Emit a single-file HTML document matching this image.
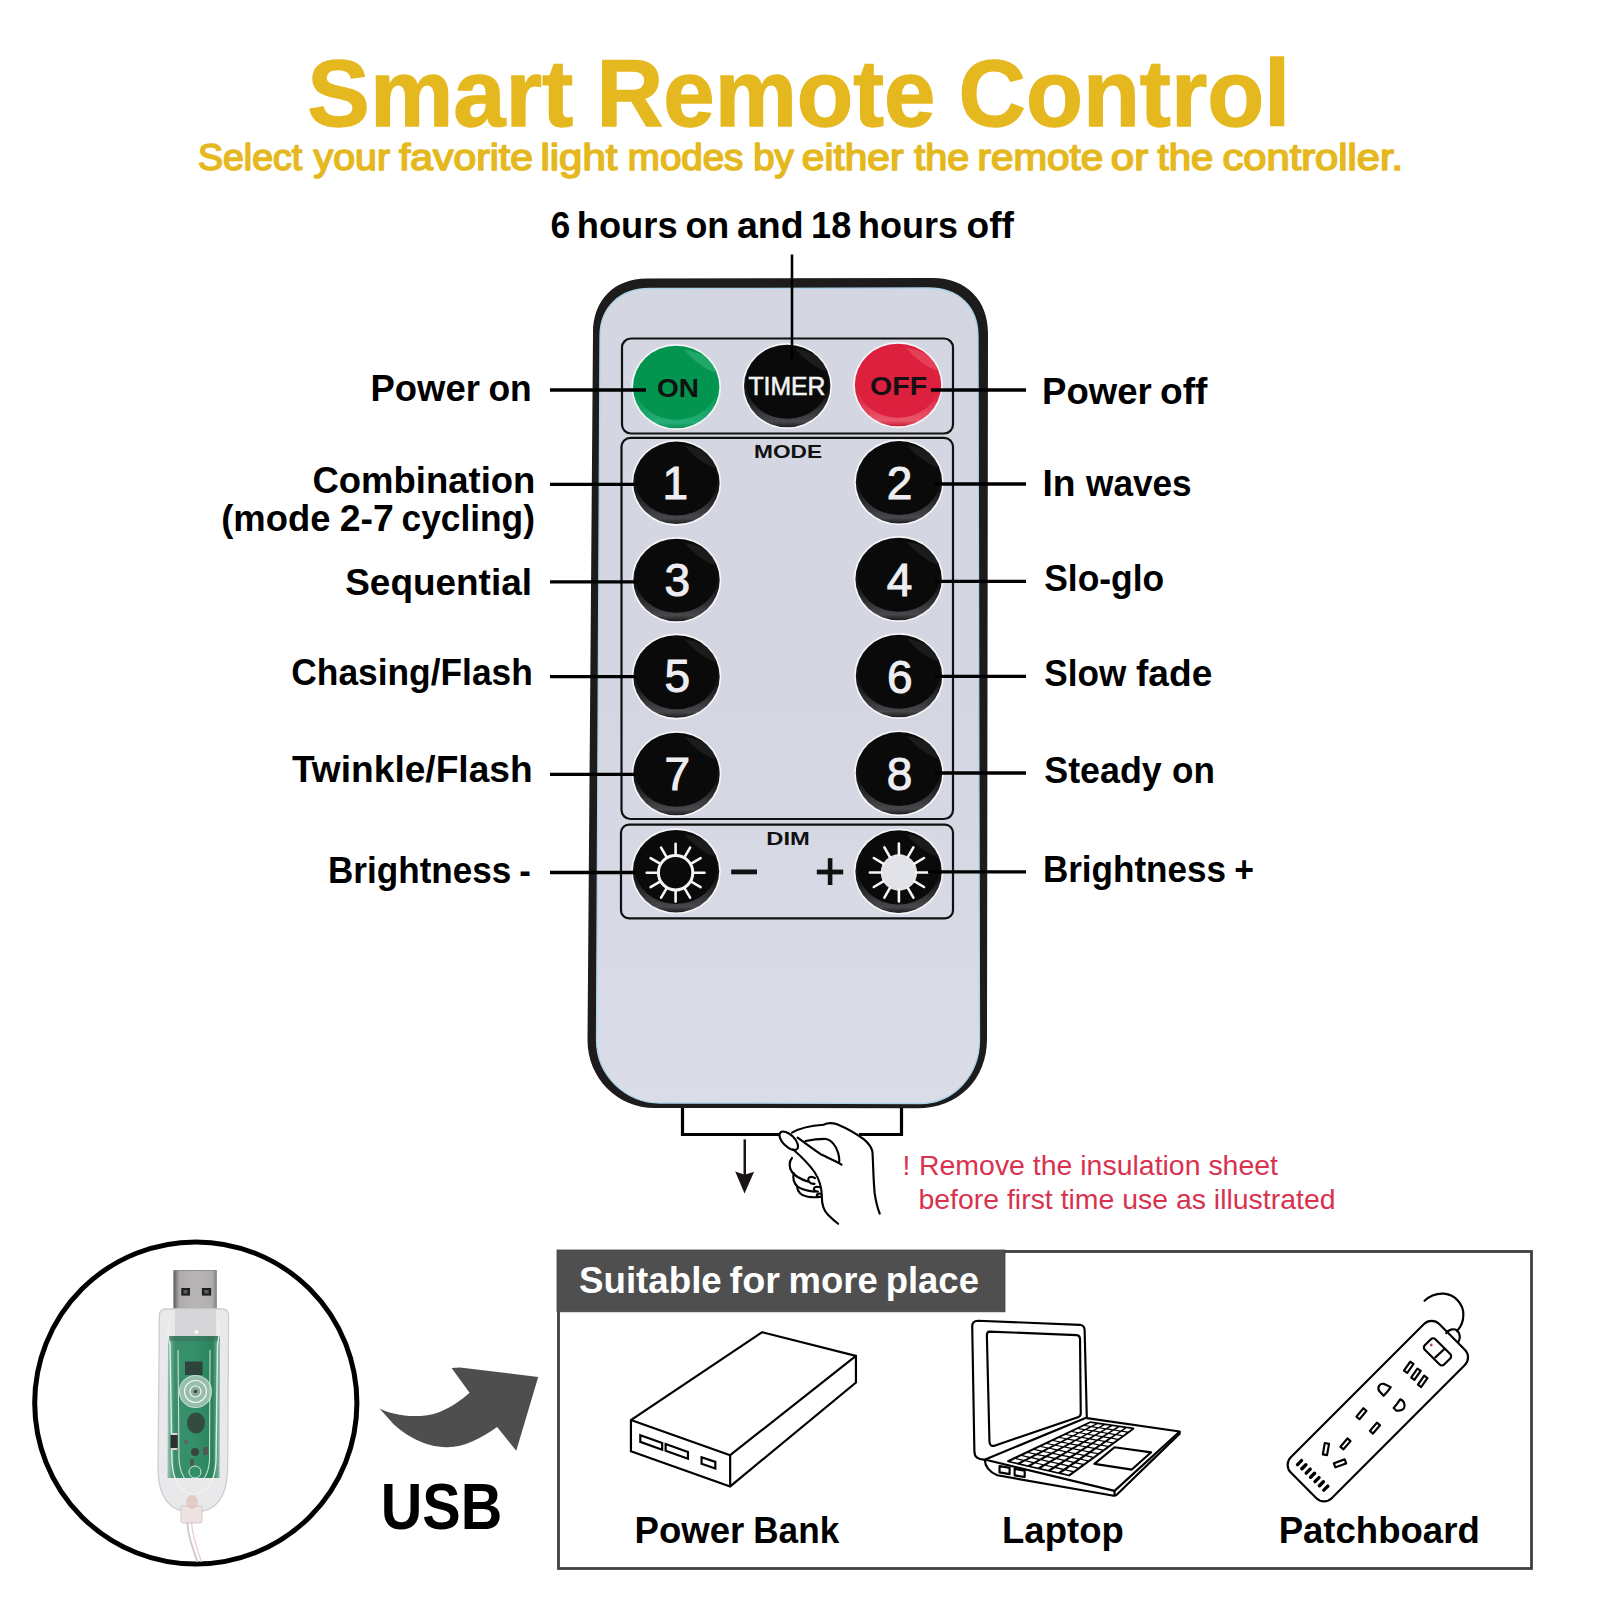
<!DOCTYPE html>
<html><head><meta charset="utf-8"><title>Smart Remote Control</title>
<style>
html,body{margin:0;padding:0;background:#fff;width:1600px;height:1600px;overflow:hidden;}
svg{display:block;font-family:"Liberation Sans",sans-serif;}
</style></head>
<body>
<svg width="1600" height="1600" viewBox="0 0 1600 1600" font-family='"Liberation Sans", sans-serif'><defs>
<linearGradient id="silver" x1="0" y1="0" x2="0" y2="1">
 <stop offset="0" stop-color="#d4d7e1"/><stop offset="0.5" stop-color="#d4d7e2"/><stop offset="1" stop-color="#dadde7"/>
</linearGradient>
<linearGradient id="lblack" x1="0" y1="0" x2="0" y2="1">
 <stop offset="0" stop-color="#0a0a0a"/><stop offset="0.6" stop-color="#151517"/><stop offset="0.93" stop-color="#48484c"/><stop offset="1" stop-color="#1c1c1e"/>
</linearGradient>
<linearGradient id="lgreen" x1="0" y1="0" x2="0" y2="1">
 <stop offset="0" stop-color="#03954f"/><stop offset="0.6" stop-color="#059751"/><stop offset="0.93" stop-color="#25ad78"/><stop offset="1" stop-color="#0a8e50"/>
</linearGradient>
<linearGradient id="lred" x1="0" y1="0" x2="0" y2="1">
 <stop offset="0" stop-color="#dc203e"/><stop offset="0.6" stop-color="#dc2240"/><stop offset="0.93" stop-color="#e8566a"/><stop offset="1" stop-color="#c81c36"/>
</linearGradient>
<radialGradient id="gblack" cx="0.5" cy="0.42" r="0.6">
 <stop offset="0" stop-color="#080808"/><stop offset="0.7" stop-color="#0e0e0e"/><stop offset="1" stop-color="#303030"/>
</radialGradient>
<radialGradient id="ggreen" cx="0.5" cy="0.45" r="0.6">
 <stop offset="0" stop-color="#12a253"/><stop offset="0.8" stop-color="#0f9c50"/><stop offset="1" stop-color="#1aa862"/>
</radialGradient>
<radialGradient id="gred" cx="0.5" cy="0.45" r="0.6">
 <stop offset="0" stop-color="#e8293f"/><stop offset="0.8" stop-color="#e4253c"/><stop offset="1" stop-color="#ec4a5a"/>
</radialGradient>
<linearGradient id="metal" x1="0" y1="0" x2="1" y2="0">
 <stop offset="0" stop-color="#5a5858"/><stop offset="0.07" stop-color="#8c8a8b"/><stop offset="0.14" stop-color="#aeacad"/><stop offset="0.5" stop-color="#b7b5b6"/><stop offset="0.9" stop-color="#b0aeaf"/><stop offset="1" stop-color="#8a8889"/>
</linearGradient>
<linearGradient id="pcb" x1="0" y1="0" x2="1" y2="0">
 <stop offset="0" stop-color="#93c6b2"/><stop offset="0.14" stop-color="#3a8f6b"/><stop offset="0.5" stop-color="#33906a"/><stop offset="0.86" stop-color="#2b835e"/><stop offset="1" stop-color="#86bca6"/>
</linearGradient>
</defs><path d="M647,278.5 L933,278 C966,278 988,300 988,333 L987,1039 C987,1080 958,1108.3 917,1108.3 L655,1108 C617,1108 587.5,1078 587.5,1040 L593,333 C593,300 614,278.5 647,278.5 Z" fill="#1d1b1c"/><path d="M650,288.5 L928,288 C958,288 978,306 978,336 L979.5,1040 C979.5,1074 955,1103.5 920,1103.5 L660,1103 C625,1103 596.5,1075 596.5,1040 L600,336 C600,307 620,288.5 650,288.5 Z" fill="url(#silver)" stroke="#a9d3e6" stroke-width="1.3"/><rect x="622" y="338.5" width="331" height="95" rx="9" fill="none" stroke="#111" stroke-width="2.2"/><rect x="621.5" y="437.8" width="331.5" height="381.2" rx="9" fill="none" stroke="#111" stroke-width="2.2"/><rect x="621" y="824.6" width="332" height="93.8" rx="8" fill="none" stroke="#111" stroke-width="2.2"/><text x="788" y="458.4" font-size="19" font-weight="bold" fill="#111" text-anchor="middle" textLength="68" lengthAdjust="spacingAndGlyphs">MODE</text><text x="788" y="845.2" font-size="17.5" font-weight="bold" fill="#111" text-anchor="middle" textLength="43.5" lengthAdjust="spacingAndGlyphs">DIM</text><ellipse cx="676.2" cy="387" rx="44.800000000000004" ry="42.9" fill="#f7f7f9"/><ellipse cx="676.2" cy="387" rx="43.2" ry="41.3" fill="url(#lgreen)"/><ellipse cx="676.2" cy="383.5" rx="41.2" ry="36.3" fill="#03954f"/><path d="M684.2,349.7 Q713.4000000000001,353.7 715.4000000000001,373 Q696.2,365 684.2,349.7 Z" fill="#7be0b0" opacity="0.25"/><ellipse cx="787.2" cy="386" rx="44.800000000000004" ry="42.9" fill="#f7f7f9"/><ellipse cx="787.2" cy="386" rx="43.2" ry="41.3" fill="url(#lblack)"/><ellipse cx="787.2" cy="382.5" rx="41.2" ry="36.3" fill="#0a0a0a"/><path d="M795.2,348.7 Q824.4000000000001,352.7 826.4000000000001,372 Q807.2,364 795.2,348.7 Z" fill="#ffffff" opacity="0.07"/><ellipse cx="898" cy="385" rx="44.800000000000004" ry="42.9" fill="#f7f7f9"/><ellipse cx="898" cy="385" rx="43.2" ry="41.3" fill="url(#lred)"/><ellipse cx="898" cy="381.5" rx="41.2" ry="36.3" fill="#dc203e"/><path d="M906,347.7 Q935.2,351.7 937.2,371 Q918,363 906,347.7 Z" fill="#ff9aa6" opacity="0.25"/><ellipse cx="676.4" cy="482.8" rx="44.800000000000004" ry="42.9" fill="#f7f7f9"/><ellipse cx="676.4" cy="482.8" rx="43.2" ry="41.3" fill="url(#lblack)"/><ellipse cx="676.4" cy="479.3" rx="41.2" ry="36.3" fill="#0a0a0a"/><path d="M684.4,445.5 Q713.6,449.5 715.6,468.8 Q696.4,460.8 684.4,445.5 Z" fill="#ffffff" opacity="0.07"/><ellipse cx="899" cy="482.3" rx="44.800000000000004" ry="42.9" fill="#f7f7f9"/><ellipse cx="899" cy="482.3" rx="43.2" ry="41.3" fill="url(#lblack)"/><ellipse cx="899" cy="478.8" rx="41.2" ry="36.3" fill="#0a0a0a"/><path d="M907,445.0 Q936.2,449.0 938.2,468.3 Q919,460.3 907,445.0 Z" fill="#ffffff" opacity="0.07"/><ellipse cx="676.5" cy="580" rx="44.800000000000004" ry="42.9" fill="#f7f7f9"/><ellipse cx="676.5" cy="580" rx="43.2" ry="41.3" fill="url(#lblack)"/><ellipse cx="676.5" cy="576.5" rx="41.2" ry="36.3" fill="#0a0a0a"/><path d="M684.5,542.7 Q713.7,546.7 715.7,566 Q696.5,558 684.5,542.7 Z" fill="#ffffff" opacity="0.07"/><ellipse cx="898.6" cy="579" rx="44.800000000000004" ry="42.9" fill="#f7f7f9"/><ellipse cx="898.6" cy="579" rx="43.2" ry="41.3" fill="url(#lblack)"/><ellipse cx="898.6" cy="575.5" rx="41.2" ry="36.3" fill="#0a0a0a"/><path d="M906.6,541.7 Q935.8000000000001,545.7 937.8000000000001,565 Q918.6,557 906.6,541.7 Z" fill="#ffffff" opacity="0.07"/><ellipse cx="676.5" cy="676.5" rx="44.800000000000004" ry="42.9" fill="#f7f7f9"/><ellipse cx="676.5" cy="676.5" rx="43.2" ry="41.3" fill="url(#lblack)"/><ellipse cx="676.5" cy="673.0" rx="41.2" ry="36.3" fill="#0a0a0a"/><path d="M684.5,639.2 Q713.7,643.2 715.7,662.5 Q696.5,654.5 684.5,639.2 Z" fill="#ffffff" opacity="0.07"/><ellipse cx="899" cy="676" rx="44.800000000000004" ry="42.9" fill="#f7f7f9"/><ellipse cx="899" cy="676" rx="43.2" ry="41.3" fill="url(#lblack)"/><ellipse cx="899" cy="672.5" rx="41.2" ry="36.3" fill="#0a0a0a"/><path d="M907,638.7 Q936.2,642.7 938.2,662 Q919,654 907,638.7 Z" fill="#ffffff" opacity="0.07"/><ellipse cx="676.5" cy="774" rx="44.800000000000004" ry="42.9" fill="#f7f7f9"/><ellipse cx="676.5" cy="774" rx="43.2" ry="41.3" fill="url(#lblack)"/><ellipse cx="676.5" cy="770.5" rx="41.2" ry="36.3" fill="#0a0a0a"/><path d="M684.5,736.7 Q713.7,740.7 715.7,760 Q696.5,752 684.5,736.7 Z" fill="#ffffff" opacity="0.07"/><ellipse cx="899" cy="773.3" rx="44.800000000000004" ry="42.9" fill="#f7f7f9"/><ellipse cx="899" cy="773.3" rx="43.2" ry="41.3" fill="url(#lblack)"/><ellipse cx="899" cy="769.8" rx="41.2" ry="36.3" fill="#0a0a0a"/><path d="M907,736.0 Q936.2,740.0 938.2,759.3 Q919,751.3 907,736.0 Z" fill="#ffffff" opacity="0.07"/><ellipse cx="676" cy="871.2" rx="44.800000000000004" ry="42.9" fill="#f7f7f9"/><ellipse cx="676" cy="871.2" rx="43.2" ry="41.3" fill="url(#lblack)"/><ellipse cx="676" cy="867.7" rx="41.2" ry="36.3" fill="#0a0a0a"/><path d="M684,833.9000000000001 Q713.2,837.9000000000001 715.2,857.2 Q696,849.2 684,833.9000000000001 Z" fill="#ffffff" opacity="0.07"/><ellipse cx="898.6" cy="871.6" rx="44.800000000000004" ry="42.9" fill="#f7f7f9"/><ellipse cx="898.6" cy="871.6" rx="43.2" ry="41.3" fill="url(#lblack)"/><ellipse cx="898.6" cy="868.1" rx="41.2" ry="36.3" fill="#0a0a0a"/><path d="M906.6,834.3000000000001 Q935.8000000000001,838.3000000000001 937.8000000000001,857.6 Q918.6,849.6 906.6,834.3000000000001 Z" fill="#ffffff" opacity="0.07"/><text x="678" y="396.6" font-size="25.5" font-weight="bold" fill="#111" text-anchor="middle" textLength="42" lengthAdjust="spacingAndGlyphs">ON</text><text x="787" y="395.3" font-size="25.5" fill="#f2f2f2" text-anchor="middle" textLength="77" lengthAdjust="spacingAndGlyphs" stroke="#f2f2f2" stroke-width="0.6">TIMER</text><text x="898.6" y="395.3" font-size="25.5" font-weight="bold" fill="#161014" text-anchor="middle" textLength="57" lengthAdjust="spacingAndGlyphs">OFF</text><text x="675.3" y="499.2" font-size="46" fill="#eeeef2" text-anchor="middle" stroke="#eeeef2" stroke-width="1.0">1</text><text x="899.6" y="499.1" font-size="46" fill="#eeeef2" text-anchor="middle" stroke="#eeeef2" stroke-width="1.0">2</text><text x="677.3" y="596.2" font-size="46" fill="#eeeef2" text-anchor="middle" stroke="#eeeef2" stroke-width="1.0">3</text><text x="899.6" y="595.8" font-size="46" fill="#eeeef2" text-anchor="middle" stroke="#eeeef2" stroke-width="1.0">4</text><text x="677.2" y="692.2" font-size="46" fill="#eeeef2" text-anchor="middle" stroke="#eeeef2" stroke-width="1.0">5</text><text x="899.7" y="693.0" font-size="46" fill="#eeeef2" text-anchor="middle" stroke="#eeeef2" stroke-width="1.0">6</text><text x="677.2" y="790.3" font-size="46" fill="#eeeef2" text-anchor="middle" stroke="#eeeef2" stroke-width="1.0">7</text><text x="899.6" y="790.3" font-size="46" fill="#eeeef2" text-anchor="middle" stroke="#eeeef2" stroke-width="1.0">8</text><rect x="731.2" y="869.5" width="25.8" height="4.8" fill="#111"/><rect x="816.8" y="869.6" width="26.4" height="4.8" fill="#111"/><rect x="827.8" y="858.2" width="4.6" height="26.8" fill="#111"/><circle cx="675.6" cy="872.7" r="17.2" fill="none" stroke="#f4f4f6" stroke-width="3"/><line x1="693.6" y1="872.7" x2="704.5" y2="872.7" stroke="#f6f6f8" stroke-width="2.6" stroke-linecap="round"/><line x1="691.2" y1="881.7" x2="700.6" y2="887.2" stroke="#f6f6f8" stroke-width="2.6" stroke-linecap="round"/><line x1="684.6" y1="888.3" x2="690.1" y2="897.7" stroke="#f6f6f8" stroke-width="2.6" stroke-linecap="round"/><line x1="675.6" y1="890.7" x2="675.6" y2="901.6" stroke="#f6f6f8" stroke-width="2.6" stroke-linecap="round"/><line x1="666.6" y1="888.3" x2="661.1" y2="897.7" stroke="#f6f6f8" stroke-width="2.6" stroke-linecap="round"/><line x1="660.0" y1="881.7" x2="650.6" y2="887.2" stroke="#f6f6f8" stroke-width="2.6" stroke-linecap="round"/><line x1="657.6" y1="872.7" x2="646.7" y2="872.7" stroke="#f6f6f8" stroke-width="2.6" stroke-linecap="round"/><line x1="660.0" y1="863.7" x2="650.6" y2="858.2" stroke="#f6f6f8" stroke-width="2.6" stroke-linecap="round"/><line x1="666.6" y1="857.1" x2="661.1" y2="847.7" stroke="#f6f6f8" stroke-width="2.6" stroke-linecap="round"/><line x1="675.6" y1="854.7" x2="675.6" y2="843.8" stroke="#f6f6f8" stroke-width="2.6" stroke-linecap="round"/><line x1="684.6" y1="857.1" x2="690.1" y2="847.7" stroke="#f6f6f8" stroke-width="2.6" stroke-linecap="round"/><line x1="691.2" y1="863.7" x2="700.6" y2="858.2" stroke="#f6f6f8" stroke-width="2.6" stroke-linecap="round"/><circle cx="898.9" cy="872.5" r="18.2" fill="#e2e2e9"/><line x1="916.4" y1="872.5" x2="927.9" y2="872.5" stroke="#f6f6f8" stroke-width="2.6" stroke-linecap="round"/><line x1="914.1" y1="881.2" x2="924.0" y2="887.0" stroke="#f6f6f8" stroke-width="2.6" stroke-linecap="round"/><line x1="907.6" y1="887.7" x2="913.4" y2="897.6" stroke="#f6f6f8" stroke-width="2.6" stroke-linecap="round"/><line x1="898.9" y1="890.0" x2="898.9" y2="901.5" stroke="#f6f6f8" stroke-width="2.6" stroke-linecap="round"/><line x1="890.1" y1="887.7" x2="884.4" y2="897.6" stroke="#f6f6f8" stroke-width="2.6" stroke-linecap="round"/><line x1="883.7" y1="881.2" x2="873.8" y2="887.0" stroke="#f6f6f8" stroke-width="2.6" stroke-linecap="round"/><line x1="881.4" y1="872.5" x2="869.9" y2="872.5" stroke="#f6f6f8" stroke-width="2.6" stroke-linecap="round"/><line x1="883.7" y1="863.8" x2="873.8" y2="858.0" stroke="#f6f6f8" stroke-width="2.6" stroke-linecap="round"/><line x1="890.1" y1="857.3" x2="884.4" y2="847.4" stroke="#f6f6f8" stroke-width="2.6" stroke-linecap="round"/><line x1="898.9" y1="855.0" x2="898.9" y2="843.5" stroke="#f6f6f8" stroke-width="2.6" stroke-linecap="round"/><line x1="907.6" y1="857.3" x2="913.4" y2="847.4" stroke="#f6f6f8" stroke-width="2.6" stroke-linecap="round"/><line x1="914.1" y1="863.8" x2="924.0" y2="858.0" stroke="#f6f6f8" stroke-width="2.6" stroke-linecap="round"/><line x1="792" y1="254.5" x2="792" y2="360" stroke="#000" stroke-width="2.6"/><line x1="550" y1="390" x2="646" y2="390" stroke="#000" stroke-width="3.3"/><line x1="550" y1="484.3" x2="636" y2="484.3" stroke="#000" stroke-width="3.3"/><line x1="550" y1="581.8" x2="636" y2="581.8" stroke="#000" stroke-width="3.3"/><line x1="550" y1="676.6" x2="636" y2="676.6" stroke="#000" stroke-width="3.3"/><line x1="550" y1="774.3" x2="636" y2="774.3" stroke="#000" stroke-width="3.3"/><line x1="550" y1="872.5" x2="636" y2="872.5" stroke="#000" stroke-width="3.3"/><line x1="931" y1="390" x2="1026" y2="390" stroke="#000" stroke-width="3.3"/><line x1="935" y1="484" x2="1026" y2="484" stroke="#000" stroke-width="3.3"/><line x1="935" y1="581.3" x2="1026" y2="581.3" stroke="#000" stroke-width="3.3"/><line x1="935" y1="676.3" x2="1026" y2="676.3" stroke="#000" stroke-width="3.3"/><line x1="935" y1="773" x2="1026" y2="773" stroke="#000" stroke-width="3.3"/><line x1="928" y1="871.8" x2="1026" y2="871.8" stroke="#000" stroke-width="3.3"/><path d="M682.5,1108 L682.5,1134.5 L780,1134.5 M859,1134.5 L901.5,1134.5 L901.5,1108" fill="none" stroke="#000" stroke-width="3.2"/><g transform="translate(720,1100) scale(0.1125)"><line x1="220" y1="350" x2="220" y2="700" stroke="#1a1414" stroke-width="22"/><path d="M135,635 L220,665 L303,638 L218,832 Z" fill="#1a1414"/><g fill="none" stroke="#000" stroke-width="19" stroke-linecap="round" stroke-linejoin="round"><path d="M640,290 C700,255 800,228 920,220 C950,205 990,200 1040,215 C1100,240 1200,290 1280,350 C1320,385 1350,420 1355,460 C1362,560 1362,700 1375,830 C1385,900 1400,960 1420,1010"/><ellipse cx="611" cy="362" rx="104" ry="52" transform="rotate(45 611 362)" fill="#fff"/><path d="M650,440 C720,500 790,570 840,640 C880,700 905,780 905,860 C905,930 920,980 960,1020 C1000,1060 1030,1085 1050,1100"/><path d="M690,335 C760,385 830,440 900,485 C960,515 1020,535 1080,575"/><path d="M760,365 C820,352 880,345 930,345 C990,352 1035,410 1050,470 C1060,510 1062,540 1058,555"/><path d="M640,515 C612,545 612,605 640,640 C670,680 720,705 780,725"/><path d="M655,650 C645,700 655,740 690,770 C730,800 790,810 840,815"/><path d="M685,770 C690,820 720,850 780,860 C820,866 860,866 900,860"/><path d="M840,745 C800,748 778,720 785,700 C792,680 822,678 845,695"/><path d="M870,815 C845,815 830,800 835,785 C840,770 870,768 890,775"/><path d="M880,860 C865,860 858,850 862,840 C868,830 885,830 900,835"/></g></g><text x="902.6" y="1175" font-size="28" fill="#D8324F">!</text><text x="919" y="1175" font-size="28" fill="#D8324F" textLength="359" lengthAdjust="spacingAndGlyphs">Remove the insulation sheet</text><text x="918.5" y="1208.7" font-size="28" fill="#D8324F" textLength="417" lengthAdjust="spacingAndGlyphs">before first time use as illustrated</text><circle cx="195.8" cy="1403" r="161.1" fill="#fff" stroke="#000" stroke-width="5.0"/><rect x="173.8" y="1270.6" width="42.5" height="40" fill="url(#metal)"/><rect x="173.8" y="1270.6" width="42.5" height="40" fill="none" stroke="#7a7878" stroke-width="0.8"/><rect x="181.3" y="1288" width="8.7" height="7.6" fill="#1e1e1e"/><rect x="183.5" y="1290" width="4" height="3.5" fill="#5a5a5a"/><rect x="201.9" y="1288" width="9.3" height="7.6" fill="#1e1e1e"/><rect x="204.2" y="1290" width="4.4" height="3.5" fill="#5a5a5a"/><path d="M166,1309 L222,1309 Q228.6,1309 228.6,1316 L227.6,1470 Q226.5,1512.5 193,1512.5 Q159,1512.5 158,1470 L159.4,1316 Q159.4,1309 166,1309 Z" fill="#e9e9ec" stroke="#cdcdd2" stroke-width="1.3"/><rect x="175" y="1310" width="41" height="27" fill="#d6d5d8"/><circle cx="196.5" cy="1332" r="2" fill="#fafafa"/><path d="M168,1336 L220,1336 L219.5,1478 L167.5,1478 Z" fill="url(#pcb)"/><rect x="168" y="1336" width="52" height="5" fill="#3d6f5c" opacity="0.6"/><path d="M170,1318 Q166,1330 170,1345 L172,1462 Q174,1492 194,1494 Q214,1492 216,1462 L217.5,1345 Q221,1330 217,1318" fill="none" stroke="#f1f3f2" stroke-width="1.4" opacity="0.9"/><path d="M178,1350 L179,1460 Q181,1482 194,1484 Q208,1482 209.5,1460 L210,1350" fill="none" stroke="#e8efe9" stroke-width="1.1" opacity="0.85"/><rect x="185" y="1361.5" width="17.5" height="13.5" fill="#2c3b36" opacity="0.9"/><circle cx="195.5" cy="1391.5" r="16" fill="#b9cfc5" opacity="0.75" stroke="#eef3f0" stroke-width="1.2"/><circle cx="195.5" cy="1391.5" r="11" fill="none" stroke="#eef3f0" stroke-width="1.2"/><circle cx="195.5" cy="1391.5" r="5.5" fill="#8aa79a" stroke="#f4f6f5" stroke-width="1.2"/><circle cx="195.5" cy="1391.5" r="1.8" fill="#3b4a44"/><ellipse cx="196" cy="1423" rx="9" ry="10.5" fill="#34443e" opacity="0.9"/><rect x="170.5" y="1433" width="7" height="17" fill="#2b2f2e"/><rect x="170.5" y="1433" width="7" height="2" fill="#d8d8d8"/><rect x="170.5" y="1448" width="7" height="2" fill="#d8d8d8"/><circle cx="195" cy="1452" r="4" fill="#39463f"/><rect x="203" y="1447" width="5" height="8" fill="#4e5a54"/><rect x="190" y="1459" width="4" height="7" fill="#4e5a54"/><rect x="184" y="1440" width="4" height="4" fill="#5a6a63"/><circle cx="195" cy="1472" r="6" fill="none" stroke="#d7e2dc" stroke-width="1"/><path d="M181,1506 L202,1506 L202,1521 Q202,1523 200,1523 L183,1523 Q181,1523 181,1521 Z" fill="#ece3e2" stroke="#d2cacb" stroke-width="1"/><ellipse cx="192" cy="1502" rx="6" ry="7" fill="#e3c4bd" opacity="0.8"/><path d="M187.5,1522 C187,1535 193,1548 197.5,1562" fill="none" stroke="#cfc8c8" stroke-width="1.8"/><path d="M191.5,1522 C192,1535 197,1548 201.5,1562" fill="none" stroke="#e6cfcb" stroke-width="1.3"/><g transform="translate(370,1350) scale(0.1125)"><path d="M85,520 C200,580 430,620 620,550 C720,510 820,440 885,380 L725,160 L800,155 L1495,240 L1300,895 L1130,685 C980,790 820,870 680,865 C480,860 320,760 210,660 Z" fill="#4e4e4e"/></g><text x="380.8" y="1529.2" font-size="64" font-weight="bold" fill="#000" text-anchor="start" textLength="121.5" lengthAdjust="spacingAndGlyphs" >USB</text><rect x="558.5" y="1251.5" width="973" height="317" fill="none" stroke="#414141" stroke-width="2.8"/><rect x="557" y="1250" width="448" height="61.8" fill="#4f4f4f" stroke="#424242" stroke-width="0.8"/><g transform="translate(620,1320) scale(0.15625)" fill="none" stroke="#000" stroke-width="14" stroke-linejoin="miter"><path d="M910,78 L1510,230 L1510,400 L705,1065 L70,840 L70,640 Z"/><path d="M70,640 L705,865 L705,1065 M705,865 L1510,230"/><path d="M130,737 L270,787 L270,830 L130,780 Z"/><path d="M292,794 L435,845 L435,888 L292,837 Z"/><path d="M522,878 L610,908 L610,950 L522,920 Z"/></g><g transform="translate(960,1310) scale(0.14375)" fill="none" stroke="#000" stroke-width="15" stroke-linejoin="round"><path d="M125,75 L835,103 Q866,108 867,140 L882,748 L175,1040 Q100,1045 100,980 L85,115 Q85,75 125,75 Z"/><path d="M205,150 L812,175 Q835,178 835,205 L840,718 Q840,740 820,746 L240,944 Q206,952 205,915 L187,180 Q187,150 205,150 Z"/><path d="M882,752 L1528,845 L1075,1258 L172,1040"/><path d="M172,1040 Q175,1115 260,1150 L1060,1290 Q1078,1295 1090,1285 L1528,860 L1528,845"/><path d="M1075,1258 L1075,1292"/><path d="M335,1052 L905,782 L1205,825 L760,1150 Z" fill="#000"/><path d="M907,786 L876,801 L911,807 L942,791ZM863,807 L832,822 L869,828 L899,813ZM820,828 L788,843 L826,850 L857,834ZM776,849 L745,864 L784,871 L814,855ZM733,870 L701,885 L741,892 L772,877ZM689,891 L658,906 L699,914 L729,898ZM646,912 L614,927 L656,935 L687,920ZM602,933 L571,948 L614,956 L644,941ZM558,953 L527,969 L571,978 L602,962ZM515,974 L483,989 L529,999 L559,984ZM471,995 L440,1010 L486,1021 L517,1005ZM428,1016 L396,1031 L444,1042 L474,1027ZM384,1037 L353,1052 L401,1063 L432,1048ZM957,794 L927,809 L962,815 L992,799ZM915,815 L885,831 L922,837 L951,821ZM873,837 L843,852 L881,859 L910,843ZM831,858 L801,874 L840,881 L869,865ZM789,880 L759,896 L799,903 L828,887ZM747,902 L717,917 L758,925 L788,909ZM705,923 L675,939 L717,947 L747,931ZM663,945 L633,960 L676,969 L706,953ZM621,966 L591,982 L636,991 L665,975ZM579,988 L549,1004 L595,1013 L624,997ZM537,1010 L507,1025 L554,1035 L583,1019ZM496,1031 L465,1047 L513,1057 L542,1042ZM454,1053 L423,1068 L472,1080 L501,1064ZM1007,801 L978,817 L1014,822 L1042,806ZM967,823 L938,839 L975,845 L1003,829ZM927,845 L898,862 L935,868 L964,851ZM886,868 L857,884 L896,891 L924,874ZM846,890 L817,906 L857,913 L885,897ZM806,912 L777,928 L818,936 L846,920ZM765,935 L736,951 L778,959 L807,943ZM725,957 L696,973 L739,982 L767,965ZM684,979 L655,995 L700,1005 L728,988ZM644,1002 L615,1018 L660,1027 L689,1011ZM604,1024 L575,1040 L621,1050 L649,1034ZM563,1046 L534,1062 L582,1073 L610,1057ZM523,1068 L494,1085 L543,1096 L571,1079ZM1058,808 L1030,825 L1065,830 L1092,813ZM1019,831 L991,848 L1028,854 L1055,837ZM980,854 L952,871 L990,877 L1017,860ZM941,877 L913,894 L952,901 L979,884ZM903,900 L875,917 L915,924 L942,907ZM864,923 L836,940 L877,948 L904,931ZM825,946 L797,963 L839,971 L866,954ZM786,969 L758,986 L802,995 L829,978ZM748,992 L720,1009 L764,1018 L791,1001ZM709,1015 L681,1032 L726,1042 L753,1025ZM670,1038 L642,1055 L689,1065 L716,1048ZM631,1061 L603,1078 L651,1089 L678,1072ZM592,1084 L565,1101 L613,1112 L640,1095ZM1108,815 L1081,833 L1117,838 L1143,820ZM1071,839 L1044,856 L1081,862 L1107,845ZM1034,863 L1007,880 L1045,886 L1070,869ZM996,887 L970,904 L1008,910 L1034,893ZM959,910 L933,927 L972,935 L998,917ZM922,934 L895,951 L936,959 L962,941ZM885,958 L858,975 L900,983 L926,966ZM848,981 L821,998 L864,1007 L890,990ZM811,1005 L784,1022 L828,1031 L854,1014ZM773,1029 L747,1046 L792,1056 L818,1038ZM736,1053 L710,1070 L756,1080 L782,1062ZM699,1076 L672,1093 L720,1104 L746,1087ZM662,1100 L635,1117 L684,1128 L710,1111ZM1158,823 L1133,840 L1168,846 L1193,828ZM1123,847 L1097,865 L1134,871 L1158,853ZM1087,872 L1061,889 L1099,895 L1124,878ZM1051,896 L1026,914 L1065,920 L1089,902ZM1016,920 L990,938 L1030,945 L1055,927ZM980,945 L955,962 L996,970 L1021,952ZM945,969 L919,987 L961,995 L986,977ZM909,994 L884,1011 L927,1020 L952,1002ZM874,1018 L848,1036 L892,1045 L917,1027ZM838,1042 L813,1060 L858,1070 L883,1052ZM803,1067 L777,1084 L823,1095 L848,1077ZM767,1091 L741,1109 L789,1120 L814,1102ZM731,1116 L706,1133 L755,1144 L779,1127Z" fill="#fff" stroke="none"/><path d="M935,1070 L1075,955 L1330,990 L1195,1110 Z"/><path d="M275,1085 L345,1098 L345,1142 L275,1130 Z M380,1105 L450,1118 L450,1162 L380,1150 Z"/></g><g transform="translate(1270,1280) scale(0.14378)" fill="none" stroke="#000" stroke-width="15" stroke-linecap="round" stroke-linejoin="round"><path d="M1075,145 C1110,110 1160,92 1210,95 C1290,102 1345,170 1345,240 C1345,290 1325,330 1300,355"/><path d="M1225,370 C1240,345 1275,335 1300,350 C1325,370 1325,405 1310,430"/><rect x="-730" y="-201" width="1460" height="402" rx="75" transform="translate(750,912) rotate(-45)"/><rect x="-95" y="-52" width="190" height="104" rx="22" transform="translate(1165,500) rotate(45)"/><path d="M1150,538 L1215,478"/><rect x="-38" y="-14" width="76" height="28" transform="translate(965,607) rotate(-55)"/><rect x="-38" y="-14" width="76" height="28" transform="translate(1015,655) rotate(-55)"/><rect x="-38" y="-14" width="76" height="28" transform="translate(1062,705) rotate(-55)"/><path d="M790,805 L758,770 C745,740 765,720 790,722 L840,745 L820,772 Z"/><path d="M860,890 L885,860 L905,830 C930,835 945,870 930,895 C915,915 895,905 880,910 Z"/><rect x="-38" y="-14" width="76" height="28" transform="translate(636,930) rotate(-50)"/><rect x="-38" y="-14" width="76" height="28" transform="translate(730,1030) rotate(-50)"/><rect x="-38" y="-14" width="76" height="28" transform="translate(525,1140) rotate(-50)"/><rect x="-40" y="-15" width="80" height="30" transform="translate(389,1176) rotate(-80)"/><rect x="-40" y="-15" width="80" height="30" transform="translate(487,1275) rotate(-20)"/></g><line x1="1297.5" y1="1464.6" x2="1301.5" y2="1460.6" stroke="#000" stroke-width="3.4" stroke-linecap="round"/><line x1="1301.9" y1="1468.8" x2="1305.9" y2="1464.8" stroke="#000" stroke-width="3.4" stroke-linecap="round"/><line x1="1306.2" y1="1473.1" x2="1310.2" y2="1469.1" stroke="#000" stroke-width="3.4" stroke-linecap="round"/><line x1="1310.6" y1="1477.3" x2="1314.6" y2="1473.3" stroke="#000" stroke-width="3.4" stroke-linecap="round"/><line x1="1315.0" y1="1481.6" x2="1319.0" y2="1477.6" stroke="#000" stroke-width="3.4" stroke-linecap="round"/><line x1="1319.4" y1="1485.8" x2="1323.4" y2="1481.8" stroke="#000" stroke-width="3.4" stroke-linecap="round"/><line x1="1323.8" y1="1490.1" x2="1327.8" y2="1486.1" stroke="#000" stroke-width="3.4" stroke-linecap="round"/><circle cx="1431.2" cy="1345" r="1.4" fill="#c04070"/><text x="307.3" y="125.5" font-size="94" font-weight="bold" fill="#E5B820" text-anchor="start" textLength="265.95" lengthAdjust="spacingAndGlyphs" stroke="#E5B820" stroke-width="1.3" stroke-linejoin="round">Smart</text><text x="596.6" y="125.5" font-size="94" font-weight="bold" fill="#E5B820" text-anchor="start" textLength="338.89" lengthAdjust="spacingAndGlyphs" stroke="#E5B820" stroke-width="1.3" stroke-linejoin="round">Remote</text><text x="958.62" y="125.5" font-size="94" font-weight="bold" fill="#E5B820" text-anchor="start" textLength="331.46" lengthAdjust="spacingAndGlyphs" stroke="#E5B820" stroke-width="1.3" stroke-linejoin="round">Control</text><text x="197.97" y="170.2" font-size="36.5" font-weight="normal" fill="#E5B820" text-anchor="start" textLength="104.29" lengthAdjust="spacingAndGlyphs" stroke="#E5B820" stroke-width="1.6" stroke-linejoin="round">Select</text><text x="313.58" y="170.2" font-size="36.5" font-weight="normal" fill="#E5B820" text-anchor="start" textLength="76.4" lengthAdjust="spacingAndGlyphs" stroke="#E5B820" stroke-width="1.6" stroke-linejoin="round">your</text><text x="398.9" y="170.2" font-size="36.5" font-weight="normal" fill="#E5B820" text-anchor="start" textLength="134.08" lengthAdjust="spacingAndGlyphs" stroke="#E5B820" stroke-width="1.6" stroke-linejoin="round">favorite</text><text x="540.51" y="170.2" font-size="36.5" font-weight="normal" fill="#E5B820" text-anchor="start" textLength="76.83" lengthAdjust="spacingAndGlyphs" stroke="#E5B820" stroke-width="1.6" stroke-linejoin="round">light</text><text x="627.89" y="170.2" font-size="36.5" font-weight="normal" fill="#E5B820" text-anchor="start" textLength="115.44" lengthAdjust="spacingAndGlyphs" stroke="#E5B820" stroke-width="1.6" stroke-linejoin="round">modes</text><text x="753.15" y="170.2" font-size="36.5" font-weight="normal" fill="#E5B820" text-anchor="start" textLength="40.43" lengthAdjust="spacingAndGlyphs" stroke="#E5B820" stroke-width="1.6" stroke-linejoin="round">by</text><text x="801.79" y="170.2" font-size="36.5" font-weight="normal" fill="#E5B820" text-anchor="start" textLength="101.74" lengthAdjust="spacingAndGlyphs" stroke="#E5B820" stroke-width="1.6" stroke-linejoin="round">either</text><text x="914.3" y="170.2" font-size="36.5" font-weight="normal" fill="#E5B820" text-anchor="start" textLength="55.08" lengthAdjust="spacingAndGlyphs" stroke="#E5B820" stroke-width="1.6" stroke-linejoin="round">the</text><text x="977.49" y="170.2" font-size="36.5" font-weight="normal" fill="#E5B820" text-anchor="start" textLength="125.67" lengthAdjust="spacingAndGlyphs" stroke="#E5B820" stroke-width="1.6" stroke-linejoin="round">remote</text><text x="1110.85" y="170.2" font-size="36.5" font-weight="normal" fill="#E5B820" text-anchor="start" textLength="37.26" lengthAdjust="spacingAndGlyphs" stroke="#E5B820" stroke-width="1.6" stroke-linejoin="round">or</text><text x="1157.6" y="170.2" font-size="36.5" font-weight="normal" fill="#E5B820" text-anchor="start" textLength="55.7" lengthAdjust="spacingAndGlyphs" stroke="#E5B820" stroke-width="1.6" stroke-linejoin="round">the</text><text x="1222.46" y="170.2" font-size="36.5" font-weight="normal" fill="#E5B820" text-anchor="start" textLength="180.73" lengthAdjust="spacingAndGlyphs" stroke="#E5B820" stroke-width="1.6" stroke-linejoin="round">controller.</text><text x="550.45" y="237.6" font-size="37.5" font-weight="bold" fill="#000" text-anchor="start" textLength="19.76" lengthAdjust="spacingAndGlyphs" >6</text><text x="576.69" y="237.6" font-size="37.5" font-weight="bold" fill="#000" text-anchor="start" textLength="100.94" lengthAdjust="spacingAndGlyphs" >hours</text><text x="685.44" y="237.6" font-size="37.5" font-weight="bold" fill="#000" text-anchor="start" textLength="43.8" lengthAdjust="spacingAndGlyphs" >on</text><text x="737.0" y="237.6" font-size="37.5" font-weight="bold" fill="#000" text-anchor="start" textLength="66.67" lengthAdjust="spacingAndGlyphs" >and</text><text x="811.08" y="237.6" font-size="37.5" font-weight="bold" fill="#000" text-anchor="start" textLength="40.11" lengthAdjust="spacingAndGlyphs" >18</text><text x="858.12" y="237.6" font-size="37.5" font-weight="bold" fill="#000" text-anchor="start" textLength="100.0" lengthAdjust="spacingAndGlyphs" >hours</text><text x="966.51" y="237.6" font-size="37.5" font-weight="bold" fill="#000" text-anchor="start" textLength="47.38" lengthAdjust="spacingAndGlyphs" >off</text><text x="370.56" y="400.6" font-size="37.5" font-weight="bold" fill="#000" text-anchor="start" textLength="109.38" lengthAdjust="spacingAndGlyphs" >Power</text><text x="488.46" y="400.6" font-size="37.5" font-weight="bold" fill="#000" text-anchor="start" textLength="43.27" lengthAdjust="spacingAndGlyphs" >on</text><text x="312.43" y="492.5" font-size="37.5" font-weight="bold" fill="#000" text-anchor="start" textLength="222.96" lengthAdjust="spacingAndGlyphs" >Combination</text><text x="221.16" y="530.5" font-size="37.5" font-weight="bold" fill="#000" text-anchor="start" textLength="109.23" lengthAdjust="spacingAndGlyphs" >(mode</text><text x="339.8" y="530.5" font-size="37.5" font-weight="bold" fill="#000" text-anchor="start" textLength="54.1" lengthAdjust="spacingAndGlyphs" >2-7</text><text x="401.56" y="530.5" font-size="37.5" font-weight="bold" fill="#000" text-anchor="start" textLength="133.36" lengthAdjust="spacingAndGlyphs" >cycling)</text><text x="345.22" y="594.9" font-size="37.5" font-weight="bold" fill="#000" text-anchor="start" textLength="186.77" lengthAdjust="spacingAndGlyphs" >Sequential</text><text x="291.36" y="685.4" font-size="37.5" font-weight="bold" fill="#000" text-anchor="start" textLength="241.41" lengthAdjust="spacingAndGlyphs" >Chasing/Flash</text><text x="291.9" y="781.75" font-size="37.5" font-weight="bold" fill="#000" text-anchor="start" textLength="240.79" lengthAdjust="spacingAndGlyphs" >Twinkle/Flash</text><text x="328.03" y="883.3" font-size="37.5" font-weight="bold" fill="#000" text-anchor="start" textLength="183.33" lengthAdjust="spacingAndGlyphs" >Brightness</text><text x="519.17" y="883.3" font-size="37.5" font-weight="bold" fill="#000" text-anchor="start" textLength="11.62" lengthAdjust="spacingAndGlyphs" >-</text><text x="1042.05" y="403.8" font-size="37.5" font-weight="bold" fill="#000" text-anchor="start" textLength="109.68" lengthAdjust="spacingAndGlyphs" >Power</text><text x="1160.01" y="403.8" font-size="37.5" font-weight="bold" fill="#000" text-anchor="start" textLength="47.38" lengthAdjust="spacingAndGlyphs" >off</text><text x="1042.41" y="495.7" font-size="37.5" font-weight="bold" fill="#000" text-anchor="start" textLength="33.1" lengthAdjust="spacingAndGlyphs" >In</text><text x="1086.0" y="495.7" font-size="37.5" font-weight="bold" fill="#000" text-anchor="start" textLength="105.7" lengthAdjust="spacingAndGlyphs" >waves</text><text x="1044.26" y="590.5" font-size="37.5" font-weight="bold" fill="#000" text-anchor="start" textLength="119.95" lengthAdjust="spacingAndGlyphs" >Slo-glo</text><text x="1044.26" y="685.7" font-size="37.5" font-weight="bold" fill="#000" text-anchor="start" textLength="82.08" lengthAdjust="spacingAndGlyphs" >Slow</text><text x="1136.01" y="685.7" font-size="37.5" font-weight="bold" fill="#000" text-anchor="start" textLength="76.29" lengthAdjust="spacingAndGlyphs" >fade</text><text x="1044.25" y="782.75" font-size="37.5" font-weight="bold" fill="#000" text-anchor="start" textLength="117.44" lengthAdjust="spacingAndGlyphs" >Steady</text><text x="1172.07" y="782.75" font-size="37.5" font-weight="bold" fill="#000" text-anchor="start" textLength="42.84" lengthAdjust="spacingAndGlyphs" >on</text><text x="1042.88" y="882.2" font-size="37.5" font-weight="bold" fill="#000" text-anchor="start" textLength="183.17" lengthAdjust="spacingAndGlyphs" >Brightness</text><text x="1234.3" y="882.2" font-size="37.5" font-weight="bold" fill="#000" text-anchor="start" textLength="19.72" lengthAdjust="spacingAndGlyphs" >+</text><text x="579.02" y="1293" font-size="37.5" font-weight="bold" fill="#fff" text-anchor="start" textLength="142.73" lengthAdjust="spacingAndGlyphs" >Suitable</text><text x="729.59" y="1293" font-size="37.5" font-weight="bold" fill="#fff" text-anchor="start" textLength="50.41" lengthAdjust="spacingAndGlyphs" >for</text><text x="788.55" y="1293" font-size="37.5" font-weight="bold" fill="#fff" text-anchor="start" textLength="89.23" lengthAdjust="spacingAndGlyphs" >more</text><text x="885.65" y="1293" font-size="37.5" font-weight="bold" fill="#fff" text-anchor="start" textLength="93.33" lengthAdjust="spacingAndGlyphs" >place</text><text x="634.55" y="1543.3" font-size="37.5" font-weight="bold" fill="#000" text-anchor="start" textLength="109.78" lengthAdjust="spacingAndGlyphs" >Power</text><text x="753.22" y="1543.3" font-size="37.5" font-weight="bold" fill="#000" text-anchor="start" textLength="86.0" lengthAdjust="spacingAndGlyphs" >Bank</text><text x="1002.05" y="1543.3" font-size="37.5" font-weight="bold" fill="#000" text-anchor="start" textLength="121.71" lengthAdjust="spacingAndGlyphs" >Laptop</text><text x="1278.65" y="1543.3" font-size="37.5" font-weight="bold" fill="#000" text-anchor="start" textLength="201.09" lengthAdjust="spacingAndGlyphs" >Patchboard</text></svg>
</body></html>
